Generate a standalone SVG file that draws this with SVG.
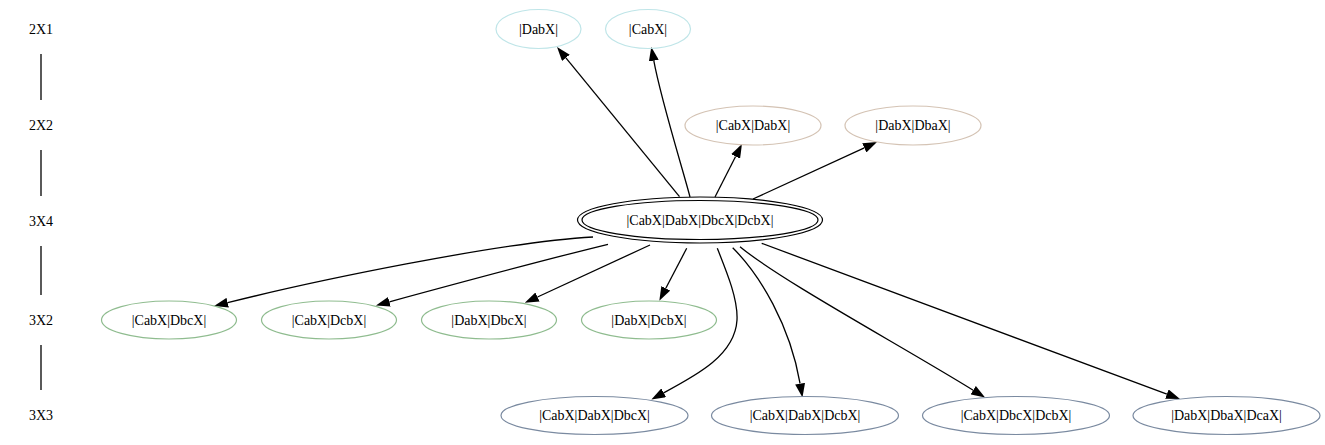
<svg xmlns="http://www.w3.org/2000/svg" width="1325" height="445" viewBox="0 0 1325 445">
<style>
text{font-family:"Liberation Serif","Times New Roman",serif;font-size:14px;text-anchor:middle;fill:#000}
ellipse{fill:none;stroke-width:1.2}
.c1{stroke:#bfe5e8}
.c2{stroke:#d4c3b4}
.c3{stroke:#8fbc8f}
.c4{stroke:#7a8aa0}
.c0{stroke:#000}
.e{fill:none;stroke:#000;stroke-width:1.3;marker-end:url(#ah)}
.r{stroke:#000;stroke-width:1.3}
</style>
<defs>
<marker id="ah" markerUnits="userSpaceOnUse" viewBox="0 0 14 10" markerWidth="14" markerHeight="10" refX="0" refY="5" orient="auto">
<path d="M0,0 L14,5 L0,10 z" fill="#000"/>
</marker>
</defs>
<rect width="1325" height="445" fill="#fff"/>
<g id="ranks">
<text x="41" y="33.5">2X1</text>
<text x="41" y="129.5">2X2</text>
<text x="41" y="225.5">3X4</text>
<text x="41" y="324.5">3X2</text>
<text x="41" y="420">3X3</text>
<line class="r" x1="41" y1="54" x2="41" y2="100"/>
<line class="r" x1="41" y1="150" x2="41" y2="196"/>
<line class="r" x1="41" y1="246" x2="41" y2="295"/>
<line class="r" x1="41" y1="345" x2="41" y2="390"/>
</g>
<g id="edges">
<path class="e" d="M679.5,196.7 L565.9,57.8"/>
<path class="e" d="M690,197 C683,170 661,100 653.8,60.7"/>
<path class="e" d="M715,197 L735.6,156.5"/>
<path class="e" d="M753,199 L864.3,147.9"/>
<path class="e" d="M593,237 C500,242 310,282 227.7,302.7"/>
<path class="e" d="M608,244.3 C560,256 440,288 389.4,301.8"/>
<path class="e" d="M650,245 L537.5,297"/>
<path class="e" d="M686.7,248.3 L665.8,288.3"/>
<path class="e" d="M717.3,248.3 C728,275 738,300 737,320 C735,355 697,375 663.7,392.8"/>
<path class="e" d="M732.7,247.7 C760,275 790,325 800.1,383.7"/>
<path class="e" d="M740,246.7 C780,280 900,345 973.2,390.2"/>
<path class="e" d="M761.7,243.3 L1166.9,394.1"/>
</g>
<g id="n_DabX"><ellipse class="c1" cx="538.5" cy="29" rx="42.5" ry="19.5"/><text x="538.5" y="33.5">|DabX|</text></g>
<g id="n_CabX"><ellipse class="c1" cx="648" cy="29" rx="42.5" ry="19.5"/><text x="648" y="33.5">|CabX|</text></g>
<g id="n_CabX_DabX"><ellipse class="c2" cx="753" cy="125.5" rx="68" ry="19.5"/><text x="753" y="130">|CabX|DabX|</text></g>
<g id="n_DabX_DbaX"><ellipse class="c2" cx="913" cy="125.5" rx="68" ry="19.5"/><text x="913" y="130">|DabX|DbaX|</text></g>
<g id="n_center"><ellipse class="c0" cx="700" cy="220" rx="122.5" ry="23"/><ellipse class="c0" cx="700" cy="220" rx="118" ry="19.5"/><text x="700" y="224.5">|CabX|DabX|DbcX|DcbX|</text></g>
<g id="n_CabX_DbcX"><ellipse class="c3" cx="169" cy="320" rx="67.5" ry="19"/><text x="169" y="324.5">|CabX|DbcX|</text></g>
<g id="n_CabX_DcbX"><ellipse class="c3" cx="329" cy="320" rx="67.5" ry="19"/><text x="329" y="324.5">|CabX|DcbX|</text></g>
<g id="n_DabX_DbcX"><ellipse class="c3" cx="489" cy="320" rx="67.5" ry="19"/><text x="489" y="324.5">|DabX|DbcX|</text></g>
<g id="n_DabX_DcbX"><ellipse class="c3" cx="649" cy="320" rx="67.5" ry="19"/><text x="649" y="324.5">|DabX|DcbX|</text></g>
<g id="n_CabX_DabX_DbcX"><ellipse class="c4" cx="594.5" cy="415.5" rx="93.5" ry="19"/><text x="594.5" y="420">|CabX|DabX|DbcX|</text></g>
<g id="n_CabX_DabX_DcbX"><ellipse class="c4" cx="805" cy="415.5" rx="93.5" ry="19"/><text x="805" y="420">|CabX|DabX|DcbX|</text></g>
<g id="n_CabX_DbcX_DcbX"><ellipse class="c4" cx="1016" cy="415.5" rx="93.5" ry="19"/><text x="1016" y="420">|CabX|DbcX|DcbX|</text></g>
<g id="n_DabX_DbaX_DcaX"><ellipse class="c4" cx="1226.5" cy="415.5" rx="93.5" ry="19"/><text x="1226.5" y="420">|DabX|DbaX|DcaX|</text></g>
</svg>
